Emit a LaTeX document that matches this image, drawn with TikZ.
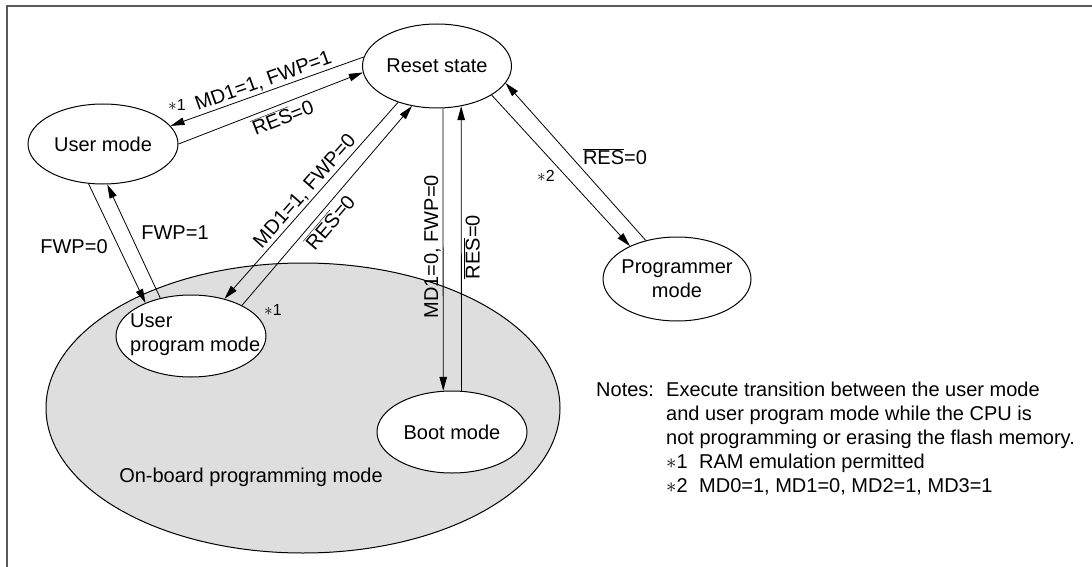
\documentclass[tikz,border=0pt]{standalone}
\usepackage{fontspec}
\setmainfont{Liberation Sans}
\usetikzlibrary{arrows.meta,shapes.geometric}
\begin{document}
\begin{tikzpicture}[x=1pt,y=1pt,
  state/.style={ellipse, draw, line width=1pt, fill=white, inner sep=0pt},
  lbl/.style={font=\fontsize{20}{24}\selectfont, inner sep=2pt},
  smalllbl/.style={font=\fontsize{16}{19}\selectfont, inner sep=0pt},
  arr/.style={line width=0.8pt, -{Triangle[length=14pt,width=7.5pt]}},
  notetxt/.style={font=\fontsize{20}{24}\selectfont, inner sep=0pt, anchor=base west},
]
\useasboundingbox (0,0) rectangle (1092,-567);
\draw[line width=2pt, black!65] (7,-567) -- (7,-6.5) -- (1092,-6.5);

% background region
\node[ellipse, draw, line width=1pt, fill=black!13, inner sep=0pt,
      minimum width=514pt, minimum height=290pt] (onboard) at (303,-408) {};
\node[lbl] (onboardtxt) at (251,-477) {On-board programming mode};

% states
\node[state, minimum width=149pt, minimum height=84pt] (reset) at (437,-66) {};
\node[lbl] (resettxt) at (reset.center) {Reset state};
\node[state, minimum width=150pt, minimum height=80pt] (user) at (103,-144) {};
\node[lbl] (usertxt) at (user.center) {User mode};
\node[state, minimum width=150pt, minimum height=82pt] (upm) at (191,-336) {};
\node[lbl, align=left, anchor=west] (upmtxt) at (128,-335) {User\\program mode};
\node[state, minimum width=150pt, minimum height=82pt] (boot) at (452,-432) {};
\node[lbl] (boottxt) at (boot.center) {Boot mode};
\node[state, minimum width=148pt, minimum height=84pt] (prog) at (677,-279) {};
\node[lbl, align=center] (progtxt) at (prog.center) {Programmer\\mode};

% Reset <-> User mode
\draw[arr] (reset.173.1) -- node[lbl, sloped, above, pos=0.5] (l1) {MD1=1, FWP=1} (user.15.2);
\draw[arr] (user.0.8) -- node[lbl, sloped, below, pos=0.54, inner sep=4pt] (l2) {$\overline{\mbox{RES}}$=0} (reset.185.4);
\node[smalllbl] (s1a) at (177,-105) {$\ast$1};

% Reset <-> User program mode
\draw[arr] (reset.223.7) -- node[lbl, sloped, above, pos=0.49] (l3) {MD1=1, FWP=0} (upm.48.2);
\draw[arr] (upm.31.3) -- node[lbl, sloped, below, pos=0.46, inner sep=4pt] (l4) {$\overline{\mbox{RES}}$=0} (reset.238.6);
\node[smalllbl] (s1b) at (273,-310) {$\ast$1};

% User mode <-> User program mode
\draw[arr] (user.250) -- (upm.144.7);
\draw[arr] (upm.129.2) -- (user.276);
\node[lbl] (l5) at (74,-247) {FWP=0};
\node[lbl] (l6) at (175,-233) {FWP=1};

% Reset <-> Boot mode
\draw[arr] (reset.278.1) -- node[lbl, rotate=90, anchor=south, pos=0.49] (l7) {MD1=0, FWP=0} (boot.102.4);
\draw[arr] (boot.77.3) -- node[lbl, rotate=90, anchor=north, pos=0.505] (l8) {$\overline{\mbox{RES}}$=0} (reset.301.6);

% Reset <-> Programmer mode
\draw[arr] (reset.332.2) -- (prog.145.8);
\draw[arr] (prog.129.7) -- (reset.346);
\node[lbl] (l9) at (615,-157) {$\overline{\mbox{RES}}$=0};
\node[smalllbl] (s2) at (546,-176) {$\ast$2};

% Notes
\node[notetxt] (notes) at (596,-396) {Notes:};
\node[notetxt] (n1) at (666,-396) {Execute transition between the user mode};
\node[notetxt] (n2) at (666,-420.5) {and user program mode while the CPU is};
\node[notetxt] (n3) at (666,-444.5) {not programming or erasing the flash memory.};
\node[notetxt] (n4) at (666,-468.5) {\makebox[33pt][l]{$\ast$1}RAM emulation permitted};
\node[notetxt] (n5) at (666,-492.5) {\makebox[33pt][l]{$\ast$2}MD0=1, MD1=0, MD2=1, MD3=1};
\end{tikzpicture}
\end{document}
